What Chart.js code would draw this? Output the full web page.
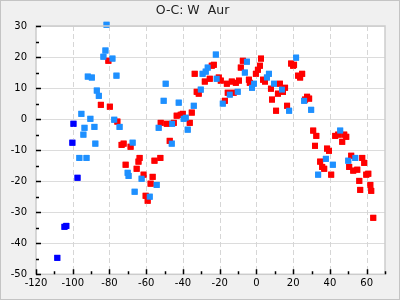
<!DOCTYPE html>
<html>
<head>
<meta charset="utf-8">
<script src="https://cdn.jsdelivr.net/npm/chart.js@4"></script>
<style>
  html, body { margin: 0; padding: 0; background: #f0f0f0; }
  #wrap { width: 400px; height: 300px; }
</style>
</head>
<body>
<div id="wrap"><canvas id="ocChart" width="400" height="300"></canvas></div>
<script>
const chartTitle = 'O-C: W  Aur';
const xMin = -120, xMax = 70, xStep = 10;
const yMin = -50, yMax = 30, yStep = 10;

const darkBluePoints = [
  [-99.6, -1.5], [-100.2, -7.6], [-97.4, -18.9], [-104.5, -34.7], [-103.5, -34.4], [-108.4, -44.7]
];

const bluePoints = [
  [-81.6, 30.4], [-82.2, 22.1], [-83.3, 20.1], [-78.4, 19.5], [-91.8, 13.7], [-89.6, 13.4],
  [-76.2, 14.0], [-86.9, 9.2], [-85.8, 7.5], [-95.3, 1.7], [-90.4, 0.1], [-77.4, -0.2],
  [-74.5, -2.5], [-93.6, -2.8], [-88.2, -2.5], [-94.2, -5.0], [-53.2, -2.8], [-87.7, -7.9],
  [-67.4, -7.6], [-96.4, -12.5], [-92.5, -12.5], [-70.1, -17.3], [-69.6, -18.3], [-62.5, -19.2],
  [-54.3, -21.2], [-66.3, -23.4], [-58.1, -25.0], [-22.1, 20.8], [-5.2, 18.5], [-26.5, 16.6],
  [-27.6, 15.3], [-29.3, 14.6], [-6.3, 15.0], [6.8, 14.6], [5.7, 13.4], [-21.6, 13.0],
  [-1.3, 11.4], [-2.4, 10.1], [-49.4, 11.4], [-30.3, 9.5], [-10.2, 8.8], [-14.5, 7.9],
  [-18.3, 5.0], [-50.5, 5.9], [-42.3, 5.3], [-34.1, 4.3], [-39.6, 0.1], [-38.5, 0.45],
  [-45.9, -1.5], [-37.4, -3.4], [-46.1, -7.9], [21.6, 19.8], [9.6, 11.4], [13.9, 9.5],
  [17.8, 2.7], [26.0, 5.9], [29.8, 3.0], [45.6, -3.7], [53.8, -12.5], [50.0, -13.4],
  [37.8, -12.8], [41.6, -14.7], [33.6, -17.9]
];

const redPoints = [
  [-80.6, 18.8], [-84.7, 4.6], [-79.8, 4.0], [-75.7, -0.8], [-73.4, -8.3], [-72.3, -7.9],
  [-68.5, -8.9], [-63.6, -12.5], [-64.2, -13.7], [-55.5, -13.4], [-52.3, -12.5], [-71.2, -14.7],
  [-65.2, -16.0], [-61.4, -17.9], [-56.5, -18.6], [-57.6, -20.8], [-60.3, -24.7], [-59.2, -26.3],
  [2.5, 19.5], [-7.4, 18.8], [-24.3, 17.2], [-23.2, 17.5], [1.9, 17.2], [-8.5, 16.6],
  [0.8, 15.9], [-33.6, 14.6], [-0.3, 14.6], [3.6, 12.7], [4.7, 12.1], [-25.4, 13.0],
  [-28.1, 12.1], [-20.5, 13.4], [-19.4, 12.4], [-16.1, 11.4], [-13.4, 12.1], [-11.2, 11.7],
  [-9.5, 12.4], [-4.1, 12.7], [-3.6, 11.7], [-32.5, 8.8], [-31.4, 8.2], [-15.6, 8.5],
  [-12.4, 8.5], [-17.2, 5.9], [-35.2, 2.1], [-43.4, 1.1], [-40.1, 1.7], [-41.2, 1.4],
  [-36.3, -1.2], [-52.1, -1.2], [-48.8, -1.5], [-45.0, -1.2], [-47.2, -7.0], [18.9, 17.9],
  [20.0, 17.2], [20.5, 17.5], [24.9, 14.6], [22.7, 14.0], [23.8, 13.4], [12.8, 11.4],
  [15.6, 10.1], [14.5, 8.8], [7.9, 9.8], [11.7, 8.2], [8.5, 6.3], [10.7, 2.7],
  [16.7, 4.3], [27.6, 7.2], [28.7, 6.6], [26.5, 6.3], [30.9, -3.7], [32.6, -5.4],
  [42.9, -5.4], [44.5, -5.0], [47.8, -5.0], [48.9, -5.7], [46.7, -7.3], [31.9, -8.6],
  [38.4, -9.5], [39.5, -10.2], [51.6, -11.8], [57.6, -12.5], [58.7, -14.1], [34.7, -13.7],
  [35.8, -15.4], [36.9, -16.0], [50.5, -15.4], [52.7, -16.6], [54.9, -16.3], [40.7, -17.9],
  [59.8, -17.9], [60.9, -17.6], [56.0, -19.9], [62.0, -21.2], [56.5, -22.8], [62.5, -23.1],
  [63.6, -31.8]
];

const toXY = pts => pts.map(([x, y]) => ({ x, y }));

function series(label, pts, color) {
  return {
    label,
    data: toXY(pts),
    backgroundColor: color,
    borderWidth: 0,
    pointStyle: 'rect',
    pointRadius: 4.2,
    pointHoverRadius: 4.2,
    clip: false
  };
}

// outer background and white plot area
const bgPlugin = {
  id: 'bg',
  beforeDraw(chart) {
    const { ctx, chartArea: a, width, height } = chart;
    ctx.save();
    ctx.fillStyle = '#f0f0f0';
    ctx.fillRect(0, 0, width, height);
    ctx.strokeStyle = '#c4c4c4';
    ctx.lineWidth = 1;
    ctx.strokeRect(0.5, 0.5, width - 1, height - 1);
    ctx.fillStyle = '#ffffff';
    ctx.fillRect(a.left, a.top, a.right - a.left, a.bottom - a.top);
    ctx.restore();
  }
};

// dashed verticals (points redrawn over them), plot border, inside tick marks
const axisPlugin = {
  id: 'axisMarks',
  afterDraw(chart) {
    const { ctx, chartArea: a } = chart;
    const xs = chart.scales.x, ys = chart.scales.y;
    ctx.save();
    ctx.strokeStyle = '#d6d6d6';
    ctx.lineWidth = 1;
    ctx.setLineDash([5, 3]);
    ctx.beginPath();
    for (let v = xMin + 20; v < xMax; v += 20) {
      const px = Math.round(xs.getPixelForValue(v)) + 0.5;
      ctx.moveTo(px, a.top);
      ctx.lineTo(px, a.bottom);
    }
    ctx.stroke();
    ctx.setLineDash([]);
    ctx.restore();

    chart.getSortedVisibleDatasetMetas().slice().reverse().forEach(m => m.controller.draw());

    ctx.save();
    ctx.strokeStyle = '#cccccc';
    ctx.lineWidth = 1.5;
    ctx.strokeRect(a.left, a.top, a.right - a.left, a.bottom - a.top);

    ctx.strokeStyle = '#000000';
    ctx.lineWidth = 1.5;
    ctx.beginPath();
    for (let v = xMin; v <= xMax; v += xStep) {
      const px = Math.round(xs.getPixelForValue(v)) + 0.5;
      const len = v % 20 === 0 ? 5 : 3;
      ctx.moveTo(px, a.bottom);
      ctx.lineTo(px, a.bottom - len);
    }
    for (let v = yMin; v <= yMax; v += 5) {
      const py = Math.round(ys.getPixelForValue(v)) + 0.5;
      const len = v % 10 === 0 ? 5 : 3;
      ctx.moveTo(a.left, py);
      ctx.lineTo(a.left + len, py);
    }
    ctx.stroke();
    ctx.restore();
  }
};

new Chart(document.getElementById('ocChart'), {
  type: 'scatter',
  data: {
    datasets: [
      series('B', bluePoints, '#1e90ff'),
      series('R', redPoints, '#ff0000'),
      series('D', darkBluePoints, '#0000ff')
    ]
  },
  options: {
    responsive: false,
    animation: false,
    events: [],
    layout: { padding: { left: 0, right: 15, top: 0, bottom: 0 } },
    plugins: {
      legend: { display: false },
      tooltip: { enabled: false },
      title: {
        display: true,
        text: chartTitle,
        color: '#222222',
        font: { family: 'DejaVu Sans', size: 12.5, weight: 'normal' },
        padding: { top: 3, bottom: 8 }
      }
    },
    scales: {
      x: {
        type: 'linear',
        min: xMin,
        max: xMax,
        afterFit: s => { s.height = 25.7; },
        ticks: {
          stepSize: xStep,
          autoSkip: false,
          maxRotation: 0,
          padding: 3,
          color: '#000000',
          font: { family: 'DejaVu Sans', size: 10 },
          callback: v => (v % 20 === 0 ? String(v) : '')
        },
        grid: { display: false, drawTicks: false },
        border: { display: false }
      },
      y: {
        type: 'linear',
        min: yMin,
        max: yMax,
        afterFit: s => { s.width = 36; },
        ticks: {
          stepSize: yStep,
          padding: 9,
          color: '#000000',
          font: { family: 'DejaVu Sans', size: 10 }
        },
        grid: {
          drawTicks: false,
          color: '#dcdcdc',
          lineWidth: 1
        },
        border: { display: false }
      }
    }
  },
  plugins: [bgPlugin, axisPlugin]
});
</script>
</body>
</html>
